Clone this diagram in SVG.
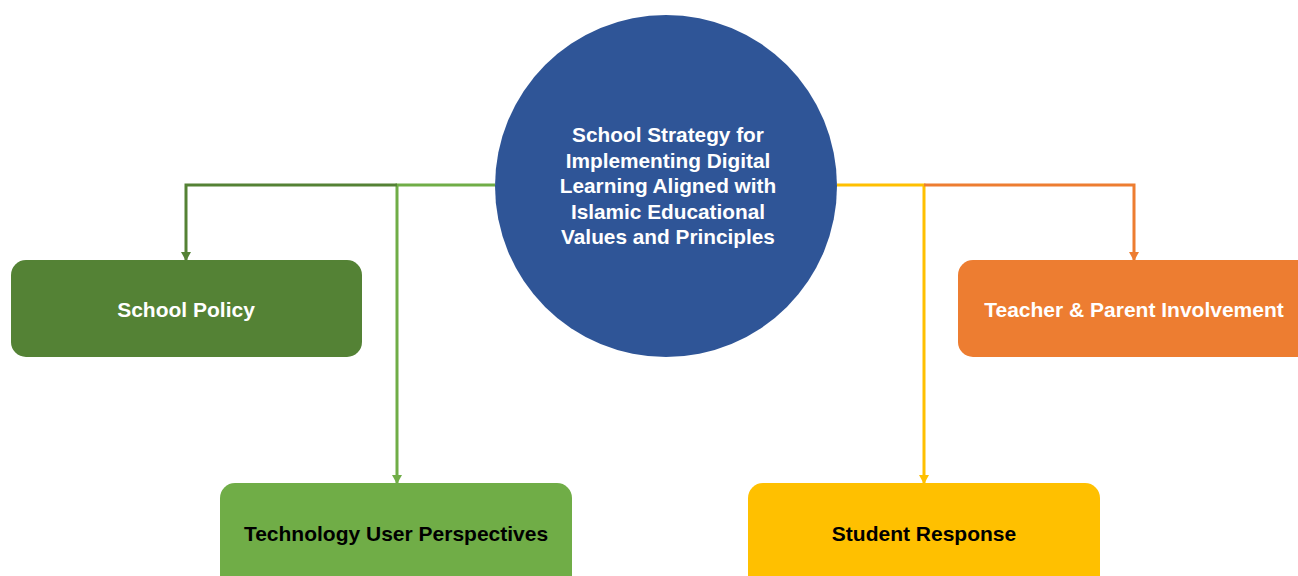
<svg xmlns="http://www.w3.org/2000/svg" width="1298" height="576" viewBox="0 0 1298 576">
  <style>
    .lbl { font-family: "Liberation Sans", Arial, sans-serif; font-weight: bold; font-size: 21px; text-anchor: middle; dominant-baseline: central; }
    .hub { font-family: "Liberation Sans", Arial, sans-serif; font-weight: bold; font-size: 20.8px; text-anchor: middle; fill: #ffffff; }
    .wire { fill: none; stroke-width: 3; }
  </style>
  <defs>
    <marker id="ahDark" markerWidth="10" markerHeight="10" refX="5" refY="8" markerUnits="userSpaceOnUse" viewBox="0 0 10 10">
      <path d="M0,0 L10,0 L5,9 Z" fill="#548235"/>
    </marker>
    <marker id="ahLight" markerWidth="10" markerHeight="10" refX="5" refY="8" markerUnits="userSpaceOnUse" viewBox="0 0 10 10">
      <path d="M0,0 L10,0 L5,9 Z" fill="#70AD47"/>
    </marker>
    <marker id="ahYellow" markerWidth="10" markerHeight="10" refX="5" refY="8" markerUnits="userSpaceOnUse" viewBox="0 0 10 10">
      <path d="M0,0 L10,0 L5,9 Z" fill="#FFC000"/>
    </marker>
    <marker id="ahOrange" markerWidth="10" markerHeight="10" refX="5" refY="8" markerUnits="userSpaceOnUse" viewBox="0 0 10 10">
      <path d="M0,0 L10,0 L5,9 Z" fill="#ED7D31"/>
    </marker>
  </defs>

  <rect width="1298" height="576" fill="#ffffff"/>

  <!-- connectors from the hub to each branch; arrows point straight down -->
  <g id="connectors">
    <path class="wire" stroke="#70AD47" d="M495,185 H397 V483" marker-end="url(#ahLight)"/>
    <path class="wire" stroke="#548235" d="M397,185 H186 V260" marker-end="url(#ahDark)"/>
    <path class="wire" stroke="#FFC000" d="M837,185 H924 V483" marker-end="url(#ahYellow)"/>
    <path class="wire" stroke="#ED7D31" d="M924,185 H1134 V260" marker-end="url(#ahOrange)"/>
  </g>

  <g id="hub">
    <circle cx="666" cy="186" r="171" fill="#2F5597"/>
    <text class="hub" x="668" y="142">School Strategy for</text>
    <text class="hub" x="668" y="168">Implementing Digital</text>
    <text class="hub" x="668" y="193">Learning Aligned with</text>
    <text class="hub" x="668" y="219">Islamic Educational</text>
    <text class="hub" x="668" y="244">Values and Principles</text>
  </g>

  <g id="school-policy">
    <rect x="11" y="260" width="351" height="97" rx="15" fill="#548235"/>
    <text class="lbl" x="186" y="309" fill="#ffffff">School Policy</text>
  </g>

  <g id="teacher-parent">
    <rect x="958" y="260" width="360" height="97" rx="15" fill="#ED7D31"/>
    <text class="lbl" x="1134" y="309" fill="#ffffff">Teacher &amp; Parent Involvement</text>
  </g>

  <g id="technology-users">
    <rect x="220" y="483" width="352" height="110" rx="15" fill="#70AD47"/>
    <text class="lbl" x="396" y="533" fill="#000000">Technology User Perspectives</text>
  </g>

  <g id="student-response">
    <rect x="748" y="483" width="352" height="110" rx="15" fill="#FFC000"/>
    <text class="lbl" x="924" y="533" fill="#000000">Student Response</text>
  </g>
</svg>
